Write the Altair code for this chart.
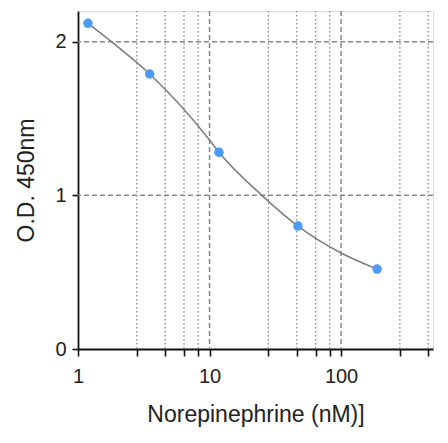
import altair as alt
import pandas as pd

# Measured standards
conc = [1.19, 3.51, 11.8, 47.0, 188.0]
od = [2.12, 1.79, 1.28, 0.80, 0.52]

# Fitted curve
curve_x = [1.19, 1.8, 3.51, 10.0, 11.8, 25.0, 47.0, 100.0, 188.0]
curve_y = [2.12, 2.00, 1.79, 1.36, 1.28, 1.00, 0.80, 0.625, 0.52]

# Grid positions
major_x = [10, 100]
minor_x = [2.8, 4.6, 6.4, 8.2, 28, 46, 64, 82, 280, 460]
major_y = [1, 2]
tick_vals = [1, 2.8, 4.6, 6.4, 8.2, 10, 28, 46, 64, 82, 100, 280, 460]
y_ticks = [0, 1, 2]

pts = pd.DataFrame({"x": conc, "y": od})
crv = pd.DataFrame({"x": curve_x, "y": curve_y})
gmx = pd.DataFrame({"x": major_x})
gnx = pd.DataFrame({"x": minor_x})
gmy = pd.DataFrame({"y": major_y})

xscale = alt.Scale(type="log", domain=[1, 500], nice=False)
yscale = alt.Scale(domain=[0, 2.2], nice=False)

xaxis = alt.Axis(values=tick_vals, labelExpr="(datum.value==1||datum.value==10||datum.value==100) ? datum.label : ''",
                 format="~g", grid=False, tickSize=7, tickWidth=1.6, domainWidth=1.8,
                 domainColor="#111", tickColor="#111", labelColor="#222", labelFontSize=20,
                 labelPadding=10, labelFont="Liberation Sans", title="Norepinephrine (nM)]",
                 titleFont="Liberation Sans", titleFontSize=23, titleFontWeight="normal",
                 titleColor="#222", titlePadding=17, labelFlush=False, labelOverlap=False)
yaxis = alt.Axis(values=y_ticks, grid=False, tickSize=6, tickWidth=1.6, domainWidth=1.8,
                 domainColor="#111", tickColor="#111", labelColor="#222", labelFontSize=20,
                 labelPadding=6, labelFont="Liberation Sans", title="O.D. 450nm",
                 titleFont="Liberation Sans", titleFontSize=23, titleFontWeight="normal",
                 titleColor="#222", titlePadding=16, format="d", labelFlush=False)

minor = alt.Chart(gnx).mark_rule(color="#8a8a8a", strokeDash=[1.5, 2.5], strokeWidth=1.3).encode(
    x=alt.X("x:Q", scale=xscale, axis=xaxis))
majx = alt.Chart(gmx).mark_rule(color="#888888", strokeDash=[5, 3], strokeWidth=1.5).encode(
    x=alt.X("x:Q", scale=xscale))
majy = alt.Chart(gmy).mark_rule(color="#888888", strokeDash=[5, 3], strokeWidth=1.5).encode(
    y=alt.Y("y:Q", scale=yscale, axis=yaxis))
line = alt.Chart(crv).mark_line(color="#7f7f7f", strokeWidth=1.6, interpolate="monotone").encode(
    x=alt.X("x:Q", scale=xscale), y=alt.Y("y:Q", scale=yscale))
dots = alt.Chart(pts).mark_circle(color="#4c9bf5", opacity=1, size=90).encode(
    x=alt.X("x:Q", scale=xscale), y=alt.Y("y:Q", scale=yscale))

chart = alt.layer(minor, majx, majy, line, dots).properties(
    width=355, height=338,
    autosize=alt.AutoSizeParams(type="none"),
    padding={"left": 70, "top": 3, "right": 7, "bottom": 86},
).configure_view(stroke=None).configure(background="white")

chart.save("out.html", embed_options={"renderer": "svg", "actions": False})
